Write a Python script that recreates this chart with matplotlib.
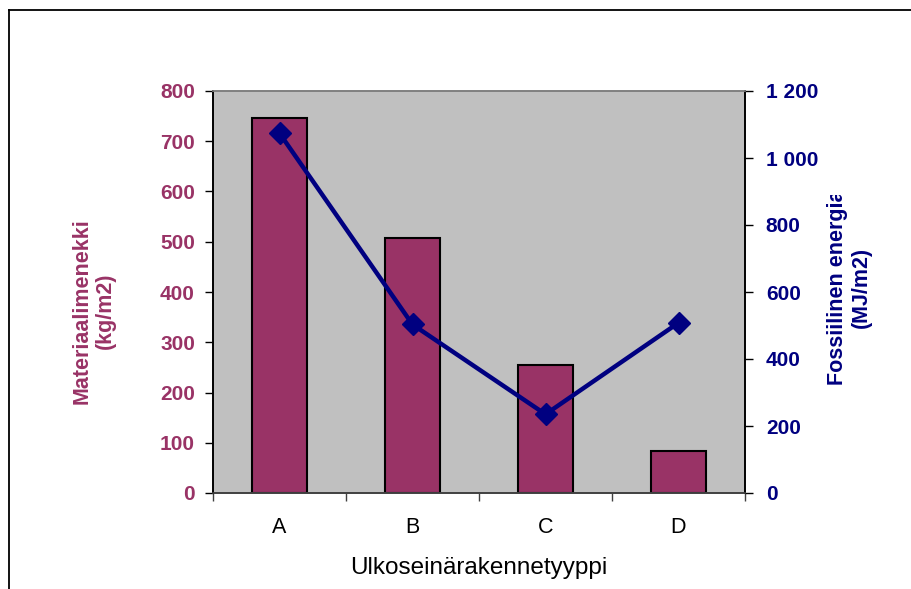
import matplotlib
matplotlib.use("Agg")
import matplotlib.pyplot as plt
from matplotlib.lines import Line2D
from matplotlib.transforms import Bbox, TransformedBbox
from matplotlib.ticker import FuncFormatter, FixedLocator

plt.rcParams['font.family'] = ['Liberation Sans', 'DejaVu Sans']

categories = ['A', 'B', 'C', 'D']
material_kg_m2 = [746, 507, 254, 83]
fossil_energy_mj_m2 = [1074, 503, 235, 508]

left_ticks = [0, 100, 200, 300, 400, 500, 600, 700, 800]
right_ticks = [0, 200, 400, 600, 800, 1000, 1200]

PLUM = '#993366'
NAVY = '#000080'

W, H = 911, 589
fig = plt.figure(figsize=(W / 100, H / 100), dpi=100)
ax = fig.add_axes([213 / W, 1 - 493 / H, (745 - 213) / W, (493 - 91) / H])
ax.set_facecolor('#C0C0C0')

x = list(range(len(categories)))
ax.bar(x, material_kg_m2, width=0.42, color=PLUM, edgecolor='black', linewidth=1.5, zorder=2)
ax.set_xlim(-0.5, len(categories) - 0.5)
ax.set_ylim(0, 800)
ax.yaxis.set_major_locator(FixedLocator(left_ticks))

ax2 = ax.twinx()
ax2.plot(x, fossil_energy_mj_m2, color=NAVY, linewidth=3.2, marker='D', markersize=11.5,
         markerfacecolor=NAVY, markeredgecolor=NAVY, zorder=3)
ax2.set_ylim(0, 1200)
ax2.yaxis.set_major_locator(FixedLocator(right_ticks))
ax2.yaxis.set_major_formatter(FuncFormatter(lambda v, p: f"{int(v):,}".replace(',', ' ')))

# category ticks sit on the boundaries between groups
ax.set_xticks([i + 0.5 for i in range(-1, len(categories))])
ax.set_xticklabels([])
ax.set_xticks(x, minor=True)
ax.set_xticklabels(categories, minor=True, fontsize=15.5)
ax.tick_params(axis='x', which='minor', length=0, pad=17)
ax.tick_params(axis='x', which='major', length=6, width=1, direction='out', color='#404040')

ax.tick_params(axis='y', length=6, width=1, direction='out', pad=7,
               labelsize=15, labelcolor=PLUM)
for t in ax.get_yticklabels():
    t.set_fontweight('bold')
ax2.tick_params(axis='y', length=6, width=1, direction='out', pad=9,
                labelsize=15, labelcolor=NAVY)
for t in ax2.get_yticklabels():
    t.set_fontweight('bold')

for a in (ax, ax2):
    a.spines['left'].set_color('black')
    a.spines['right'].set_color('black')
    a.spines['top'].set_color('#808080')
    a.spines['bottom'].set_color('#404040')
    for s in a.spines.values():
        s.set_linewidth(1.2)

ax.set_xlabel('Ulkoseinärakennetyyppi', fontsize=17.5, labelpad=14)

fig.text(93.5 / W, 1 - 311 / H, 'Materiaalimenekki\n(kg/m2)', rotation=90,
         ha='center', va='center', multialignment='center', fontsize=15.5,
         fontweight='bold', color=PLUM, linespacing=1.15)

rlabel = fig.text(849.5 / W, 1 - 287 / H, 'Fossiilinen energia\n(MJ/m2)', rotation=90,
                  ha='center', va='center', multialignment='center', fontsize=15.5,
                  fontweight='bold', color=NAVY, linespacing=1.15)
rlabel.set_clip_box(TransformedBbox(Bbox.from_extents(0, 0, 1, 1 - 195 / H), fig.transFigure))
rlabel.set_clip_on(True)

# frame edges
fig.add_artist(Line2D([9 / W, 9 / W], [0, 1 - 10 / H], color='black', linewidth=1.3,
                      transform=fig.transFigure))
fig.add_artist(Line2D([9 / W, 1], [1 - 10 / H, 1 - 10 / H], color='black', linewidth=1.3,
                      transform=fig.transFigure))

fig.savefig('out.png', dpi=100)
